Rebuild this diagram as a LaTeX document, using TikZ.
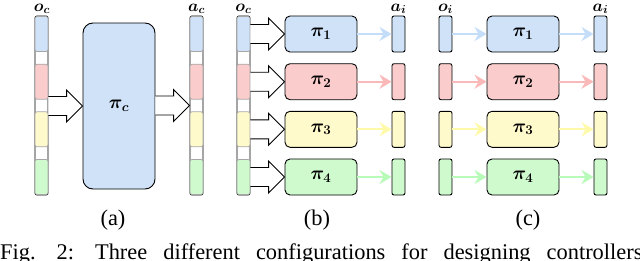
\RequirePackage{fix-cm}
\documentclass[tikz,border=0pt]{standalone}
\usepackage{bm}
\usepackage{fontspec}
\newfontfamily\capfont{Liberation Serif}
\usetikzlibrary{calc,arrows.meta}
\definecolor{bF}{RGB}{207,226,248}
\definecolor{rF}{RGB}{250,204,204}
\definecolor{yF}{RGB}{255,250,204}
\definecolor{gF}{RGB}{206,250,206}
\definecolor{bA}{RGB}{196,222,250}
\definecolor{rA}{RGB}{250,184,184}
\definecolor{yA}{RGB}{255,250,170}
\definecolor{gA}{RGB}{184,250,184}
\newcommand\hollowarr[2]{%
  \draw[hollow] ($(#1.east |- #2.west)+(0,-9.5)$) -- ($(#2.west)+(-16,-9.5)$)
    -- ($(#2.west)+(-16,-16)$) -- (#2.west) -- ($(#2.west)+(-16,16)$)
    -- ($(#2.west)+(-16,9.5)$) -- ($(#1.east |- #2.west)+(0,9.5)$);}
\begin{document}
\begin{tikzpicture}[x=1pt,y=-1pt,
  pbox/.style={draw=black, line width=0.9pt, rounded corners=5pt, minimum width=72pt, minimum height=36pt, inner sep=0pt, font=\fontsize{19}{19}\selectfont},
  bar/.style={draw=black, line width=0.9pt, rounded corners=2pt, minimum width=13pt, inner sep=0pt},
  seg/.style={draw=black!35, line width=0.8pt, rounded corners=2pt, minimum width=13pt, minimum height=35pt, inner sep=0pt},
  lab/.style={anchor=base, inner sep=0pt, font=\fontsize{16.5}{16.5}\selectfont},
  sublab/.style={anchor=base, inner sep=0pt, font=\capfont\fontsize{22.4}{22.4}\selectfont},
  hollow/.style={draw=black, fill=white, line width=0.9pt, line join=miter},
  carrow/.style={line width=2pt, -{Stealth[length=12pt,width=14pt,inset=4pt]}}]
\useasboundingbox (0,0) rectangle (640,260);
% ---------- (a)
\node[bar, minimum height=179pt] (oa) at (41.5,105.5) {};
\node[seg, fill=bF] (oa1) at (41.5,34) {};
\node[seg, fill=rF] (oa2) at (41.5,81.7) {};
\node[seg, fill=yF] (oa3) at (41.5,129.3) {};
\node[seg, fill=gF] (oa4) at (41.5,177) {};
\node[pbox, rounded corners=10pt, minimum height=166pt, fill=bF] (pc) at (119,106) {$\bm{\pi_c}$};
\node[bar, minimum height=179pt] (aa) at (196.5,105.5) {};
\node[seg, fill=bF] (aa1) at (196.5,34) {};
\node[seg, fill=rF] (aa2) at (196.5,81.7) {};
\node[seg, fill=yF] (aa3) at (196.5,129.3) {};
\node[seg, fill=gF] (aa4) at (196.5,177) {};
\hollowarr{oa}{pc}
\hollowarr{pc}{aa}
\node[lab] (loa) at (42,11) {$\bm{o_c}$};
\node[lab] (laa) at (196.5,11) {$\bm{a_c}$};
\node[sublab] (la) at (113,225) {(a)};
% ---------- (b)
\node[bar, minimum height=179pt] (ob) at (243.5,105.5) {};
\node[seg, fill=bF] (ob1) at (243.5,34) {};
\node[seg, fill=rF] (ob2) at (243.5,81.7) {};
\node[seg, fill=yF] (ob3) at (243.5,129.3) {};
\node[seg, fill=gF] (ob4) at (243.5,177) {};
\node[pbox, fill=bF] (pb1) at (321,34) {$\bm{\pi_1}$};
\node[pbox, fill=rF] (pb2) at (321,81.7) {$\bm{\pi_2}$};
\node[pbox, fill=yF] (pb3) at (321,129.3) {$\bm{\pi_3}$};
\node[pbox, fill=gF] (pb4) at (321,177) {$\bm{\pi_4}$};
\node[bar, minimum height=36pt, fill=bF] (ab1) at (398.5,34) {};
\node[bar, minimum height=36pt, fill=rF] (ab2) at (398.5,81.7) {};
\node[bar, minimum height=36pt, fill=yF] (ab3) at (398.5,129.3) {};
\node[bar, minimum height=36pt, fill=gF] (ab4) at (398.5,177) {};
\hollowarr{ob}{pb1}
\hollowarr{ob}{pb2}
\hollowarr{ob}{pb3}
\hollowarr{ob}{pb4}
\draw[carrow, bA] (pb1) -- (ab1);
\draw[carrow, rA] (pb2) -- (ab2);
\draw[carrow, yA] (pb3) -- (ab3);
\draw[carrow, gA] (pb4) -- (ab4);
\node[lab] (lob) at (243.5,11) {$\bm{o_c}$};
\node[lab] (lab) at (398.5,11) {$\bm{a_i}$};
\node[sublab] (lb) at (317,225) {(b)};
% ---------- (c)
\node[bar, minimum height=36pt, fill=bF] (oc1) at (445.5,34) {};
\node[bar, minimum height=36pt, fill=rF] (oc2) at (445.5,81.7) {};
\node[bar, minimum height=36pt, fill=yF] (oc3) at (445.5,129.3) {};
\node[bar, minimum height=36pt, fill=gF] (oc4) at (445.5,177) {};
\node[pbox, fill=bF] (pq1) at (523,34) {$\bm{\pi_1}$};
\node[pbox, fill=rF] (pq2) at (523,81.7) {$\bm{\pi_2}$};
\node[pbox, fill=yF] (pq3) at (523,129.3) {$\bm{\pi_3}$};
\node[pbox, fill=gF] (pq4) at (523,177) {$\bm{\pi_4}$};
\node[bar, minimum height=36pt, fill=bF] (ac1) at (600.5,34) {};
\node[bar, minimum height=36pt, fill=rF] (ac2) at (600.5,81.7) {};
\node[bar, minimum height=36pt, fill=yF] (ac3) at (600.5,129.3) {};
\node[bar, minimum height=36pt, fill=gF] (ac4) at (600.5,177) {};
\draw[carrow, bA] (oc1) -- (pq1);
\draw[carrow, rA] (oc2) -- (pq2);
\draw[carrow, yA] (oc3) -- (pq3);
\draw[carrow, gA] (oc4) -- (pq4);
\draw[carrow, bA] (pq1) -- (ac1);
\draw[carrow, rA] (pq2) -- (ac2);
\draw[carrow, yA] (pq3) -- (ac3);
\draw[carrow, gA] (pq4) -- (ac4);
\node[lab] (loc) at (445.5,11) {$\bm{o_i}$};
\node[lab] (lac) at (600.5,11) {$\bm{a_i}$};
\node[sublab] (lc) at (528,225) {(c)};
% ---------- caption
\node[anchor=base west, inner sep=0pt, font=\capfont\fontsize{22.4}{22.4}\selectfont] (cap) at (0,259)
  {Fig.\hspace{21pt}2:\hspace{21pt}Three\hspace{16pt}different\hspace{16pt}configurations\hspace{16pt}for\hspace{16pt}designing\hspace{16pt}controllers};
\end{tikzpicture}
\end{document}
